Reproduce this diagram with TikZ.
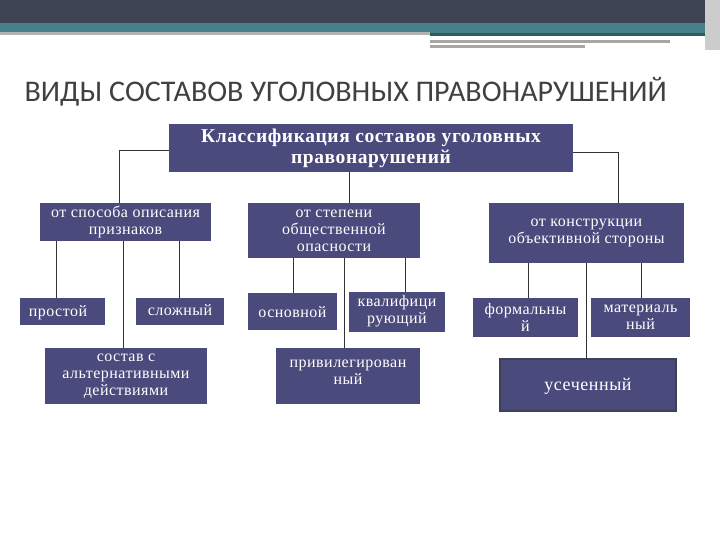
\documentclass[tikz,border=0pt]{standalone}
\usepackage{fontspec}
\setmainfont{Liberation Serif}[LetterSpace=3]
\newfontfamily\titlefont{Carlito}
\begin{document}
\begin{tikzpicture}[x=1pt,y=-1pt,
  bx/.style={fill=boxc,text=white,inner sep=0pt,align=center,font=\fontsize{16}{17}\selectfont},
  ln/.style={draw=black!80,line width=0.6pt}]
\definecolor{boxc}{HTML}{4B4A7C}
\definecolor{bar}{HTML}{3E4354}
\definecolor{teal}{HTML}{458088}
\useasboundingbox (0,0) rectangle (720,540);
\fill[white] (0,0) rectangle (720,540);
\fill[bar] (0,0) rectangle (720,23);
\fill[teal] (0,23) rectangle (720,33);
\fill[black!30] (0,32) rectangle (430,35);
\fill[teal!70!black] (430,33) rectangle (705,36);
\fill[black!35] (430,40) rectangle (670,43);
\fill[black!35] (430,45) rectangle (585,48);
\fill[black!20] (705,0) rectangle (720,50);
\node[anchor=west,text=black!75,font=\titlefont\fontsize{30}{32}\selectfont] (title) at (21,92) {ВИДЫ СОСТАВОВ УГОЛОВНЫХ ПРАВОНАРУШЕНИЙ};
% boxes
\path[fill=boxc] (169,124) rectangle (573,172);
\node[bx,font=\bfseries\fontsize{19.5}{21}\selectfont] (top) at (371,148) {Классификация составов уголовных\\правонарушений};
\path[fill=boxc] (40,203) rectangle (211,241);
\node[bx] (A) at (125.5,222) {от способа описания\\признаков};
\path[fill=boxc] (248,203) rectangle (420,258);
\node[bx] (B) at (334,230.5) {от степени\\общественной\\опасности};
\path[fill=boxc] (489,203) rectangle (684,263);
\node[bx] (C) at (586.5,233) {от конструкции\\объективной стороны};
\path[fill=boxc] (20,298) rectangle (105,325);
\node[bx] (a1) at (58,313) {простой};
\path[fill=boxc] (136,298) rectangle (224,325);
\node[bx] (a2) at (180,310) {сложный};
\path[fill=boxc] (45,348) rectangle (207,404);
\node[bx] (a3) at (126,376) {состав с\\альтернативными\\действиями};
\path[fill=boxc] (248,293) rectangle (337,330);
\node[bx] (b1) at (292.5,312) {основной};
\path[fill=boxc] (349,292) rectangle (445,332);
\node[bx] (b2) at (397,311) {квалифици\\рующий};
\path[fill=boxc] (276,348) rectangle (420,404);
\node[bx] (b3) at (348,372) {привилегирован\\ный};
\path[fill=boxc] (473,298) rectangle (578,337);
\node[bx] (c1) at (525.5,317) {формальны\\й};
\path[fill=boxc] (591,298) rectangle (690,337);
\node[bx] (c2) at (640.5,317) {материаль\\ный};
\path[fill=boxc,draw=bar,line width=1.5pt] (500,359) rectangle (676,411);
\node[bx,font=\fontsize{18}{20}\selectfont] (c3) at (588,386) {усеченный};
% connectors
\coordinate (tl) at (169,150); \coordinate (tr) at (573,152);
\draw[ln] (tl) -| (119,203);
\draw[ln] (349,172) -- (349,203);
\draw[ln] (tr) -| (618,203);
\draw[ln] (56,241) -- (56,298);
\draw[ln] (123,241) -- (123,348);
\draw[ln] (179,241) -- (179,298);
\draw[ln] (293,258) -- (293,293);
\draw[ln] (344,258) -- (344,348);
\draw[ln] (405,258) -- (405,292);
\draw[ln] (528,263) -- (528,298);
\draw[ln] (586,263) -- (586,359);
\draw[ln] (641,263) -- (641,298);
\end{tikzpicture}
\end{document}
